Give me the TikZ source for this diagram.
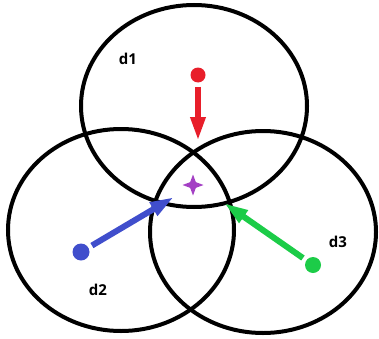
\documentclass[tikz,border=0pt]{standalone}
\usepackage{fontspec}
\setmainfont{Open Sans}
\usetikzlibrary{arrows.meta,shapes.geometric}
\definecolor{cred}{RGB}{232,30,42}
\definecolor{cblue}{RGB}{64,78,204}
\definecolor{cgreen}{RGB}{28,204,72}
\definecolor{cpurple}{RGB}{164,64,196}
\tikzset{
  ring/.style={draw=black,line width=4pt},
  dot/.style={circle,fill=#1,inner sep=0pt,minimum size=15pt},
  push/.style={draw=#1,line width=6pt,-{Triangle[length=24pt,width=14pt]},shorten <=4pt},
  lbl/.style={font=\bfseries\fontsize{15}{17}\selectfont,inner sep=0pt}
}
\begin{document}
\begin{tikzpicture}[x=1pt,y=1pt]
\useasboundingbox (0,0) rectangle (379,338);
% circles (y flipped: 338 - y)
\draw[ring] (194,232) ellipse [x radius=113,y radius=101];
\draw[ring] (121,108) ellipse [x radius=113,y radius=101];
\draw[ring] (263,106) ellipse [x radius=113,y radius=101];
% labels
\node[lbl] (l1) at (128,279) {d1};
\node[lbl] (l2) at (98,48) {d2};
\node[lbl] (l3) at (338,96) {d3};
% dots
\node[dot=cred] (r) at (198,263) {};
\node[dot=cblue,minimum size=17pt] (b) at (81,86) {};
\node[dot=cgreen,minimum size=16pt] (g) at (313,73) {};
\coordinate (rt) at (198,197);
\coordinate (bt) at (174,141);
\coordinate (gt) at (224,135);
\draw[push=cred] (r) -- (rt);
\draw[push=cblue] (b) -- (bt);
\draw[push=cgreen] (g) -- (gt);
% star
\node[star,star points=4,star point ratio=2.6,fill=cpurple,inner sep=0pt,minimum size=21pt] (s) at (193,153) {};
\end{tikzpicture}
\end{document}
